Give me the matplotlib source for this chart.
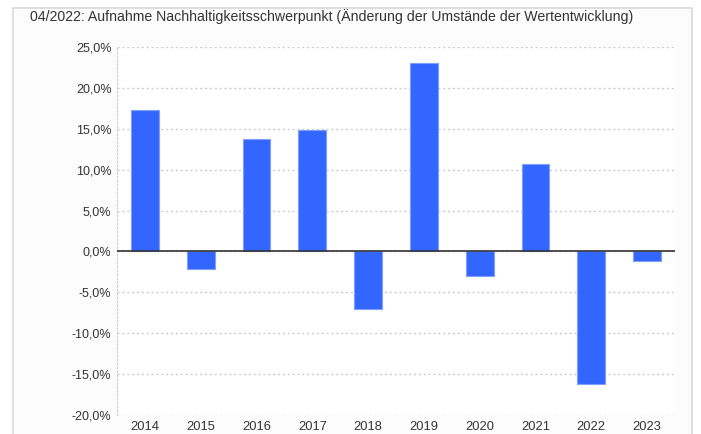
import matplotlib
matplotlib.use("Agg")
import matplotlib.pyplot as plt
from matplotlib.patches import Rectangle
from matplotlib.ticker import FuncFormatter

years = ["2014", "2015", "2016", "2017", "2018", "2019", "2020", "2021", "2022", "2023"]
values = [17.3, -2.2, 13.7, 14.8, -7.0, 23.0, -3.0, 10.7, -16.2, -1.2]
yticks = [-20, -15, -10, -5, 0, 5, 10, 15, 20, 25]
title = "04/2022: Aufnahme Nachhaltigkeitsschwerpunkt (Änderung der Umstände der Wertentwicklung)"

plt.rcParams['font.family'] = ['Liberation Sans', 'DejaVu Sans']

fig = plt.figure(figsize=(7.01, 4.34), dpi=100)
fig.patch.set_facecolor("white")

# outer frame
frame = Rectangle((13/701, -0.01), (692-13)/701, 1 - 8/434 + 0.01, transform=fig.transFigure,
                  facecolor="#fcfcfc", edgecolor="#d9d9d9", linewidth=1.2, zorder=-10)
fig.patches.append(frame)

fig.text(30/701, 1 - 17/434, title, fontsize=10.2, color="#333333", va="center", ha="left")

ax = fig.add_axes([117/701, 1 - 415/434, 558/701, 368/434])
ax.set_facecolor("white")
x = list(range(len(years)))
ax.bar(x, values, width=0.5, color="#3366ff", edgecolor="#7f9fff", linewidth=0.8, zorder=3)
ax.axhline(0, color="#333333", linewidth=1.2, zorder=4)

ax.set_xlim(-0.5, len(years) - 0.5)
ax.set_ylim(-20, 25)
ax.set_yticks(yticks)
ax.yaxis.set_major_formatter(FuncFormatter(lambda v, p: f"{v:.1f}%".replace(".", ",")))
ax.set_xticks(x)
ax.set_xticklabels(years)
ax.grid(axis="y", color="#cccccc", linestyle=(0, (1.5, 2)), linewidth=1, zorder=0)
for s in ["top", "right", "bottom"]:
    ax.spines[s].set_visible(False)
ax.spines["left"].set_color("#cccccc")
ax.spines["left"].set_linestyle((0, (1.5, 2)))
ax.tick_params(length=0, labelsize=9, colors="#333333")
ax.tick_params(axis="y", pad=4)
ax.tick_params(axis="x", labelsize=9.3, pad=4)

fig.savefig("out.png", dpi=100, facecolor=fig.get_facecolor())
